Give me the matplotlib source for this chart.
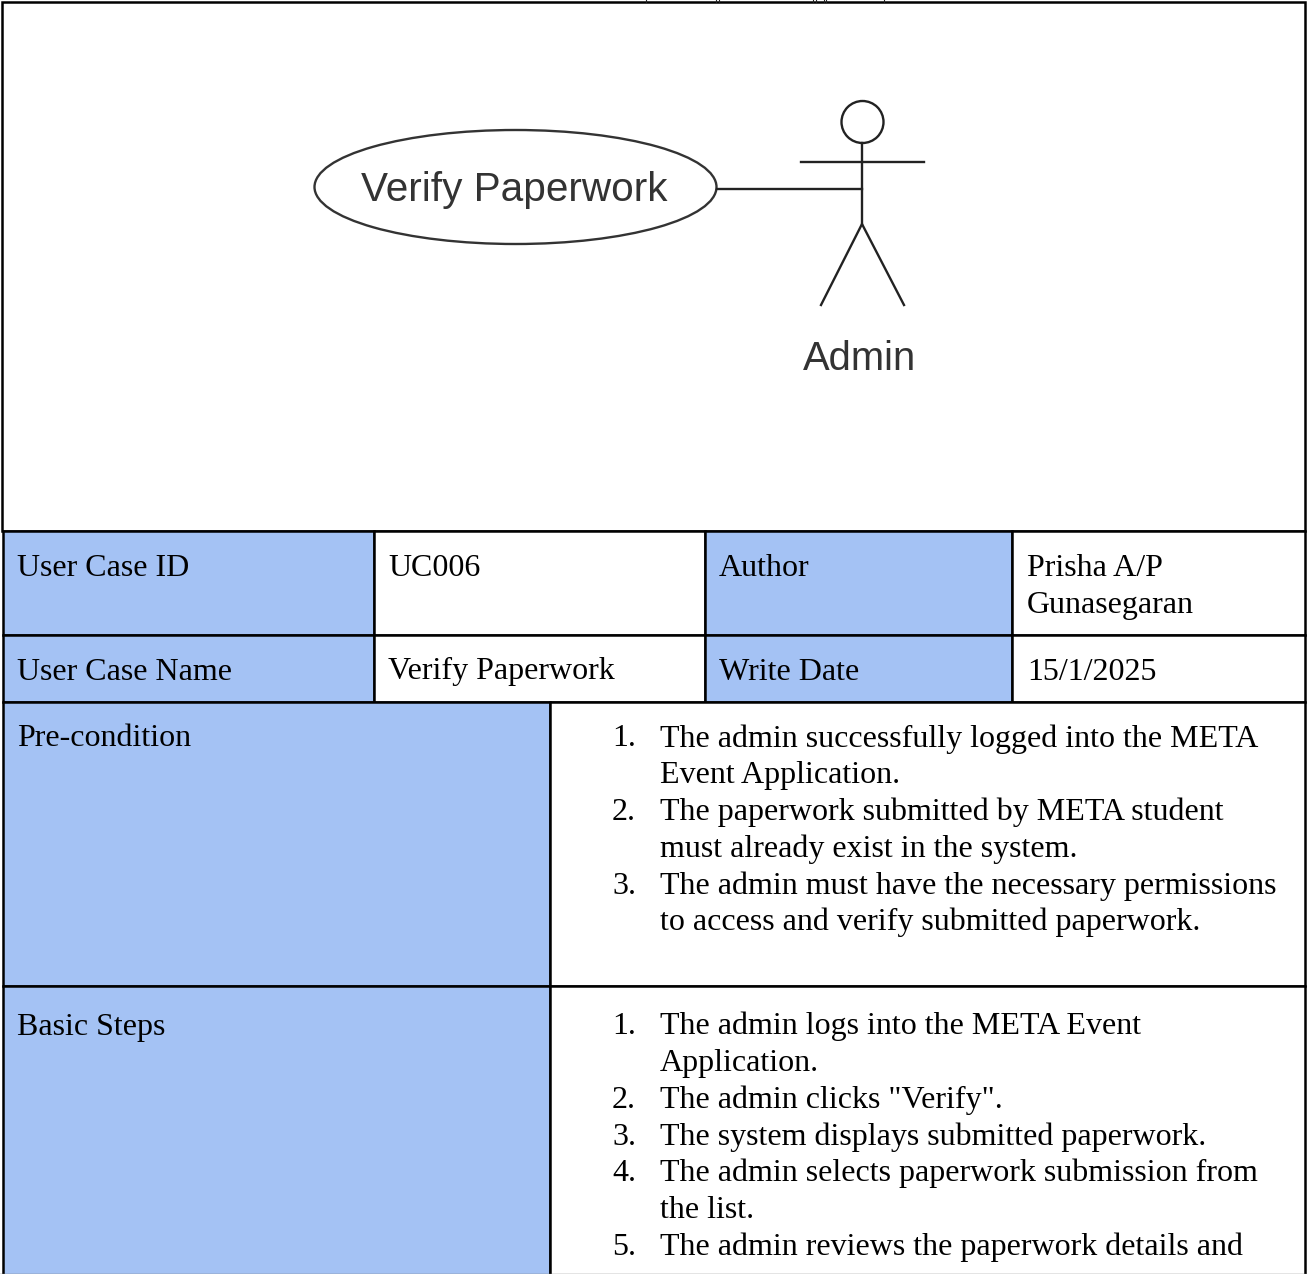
import matplotlib
matplotlib.use('Agg')
import matplotlib.pyplot as plt
from matplotlib.patches import Ellipse, Circle, Rectangle

plt.rcParams['font.family'] = ['Liberation Serif', 'DejaVu Sans']

header_labels = ['User Case ID', 'User Case Name']
header_values = ['UC006', 'Verify Paperwork']
side_labels = ['Author', 'Write Date']
side_values = ['Prisha A/P\nGunasegaran', '15/1/2025']

precondition = [
    ('1.', ['The admin successfully logged into the META', 'Event Application.']),
    ('2.', ['The paperwork submitted by META student', 'must already exist in the system.']),
    ('3.', ['The admin must have the necessary permissions', 'to access and verify submitted paperwork.']),
]
basic_steps = [
    ('1.', ['The admin logs into the META Event', 'Application.']),
    ('2.', ['The admin clicks "Verify".']),
    ('3.', ['The system displays submitted paperwork.']),
    ('4.', ['The admin selects paperwork submission from', 'the list.']),
    ('5.', ['The admin reviews the paperwork details and']),
]
# bits of the line of text cut off above the frame
clipped_marks = [646, 716, 719, 813, 816, 824, 826, 884]

BLUE = '#a4c2f4'
FS = 23.0
LINE = 36.8

fig = plt.figure(figsize=(13.07, 12.74), dpi=100)
ax = fig.add_axes([0, 0, 1, 1])
ax.set_xlim(0, 1307)
ax.set_ylim(1274, 0)
ax.axis('off')


def cell(x0, y0, x1, y1, color='white'):
    ax.add_patch(Rectangle((x0, y0), x1 - x0, y1 - y0, fc=color, ec='black', lw=1.8, zorder=1))


def put(x, y, s):
    ax.text(x, y, s, fontsize=FS, va='baseline', ha='left', color='black', zorder=3)


def numbered(items, y):
    for num, lines in items:
        put(612, y, num)
        for line in lines:
            put(660, y, line)
            y += LINE


# outer frame and diagram cell
cell(2, 2, 1305, 531)
for x in clipped_marks:
    ax.plot([x, x], [0, 2], color='#222222', lw=0.8, zorder=2)

# table rows
rows = [(531, 635), (635, 702)]
baselines = [576.5, 679.5]
for i, (y0, y1) in enumerate(rows):
    cell(3, y0, 374, y1, BLUE)
    cell(374, y0, 705, y1)
    cell(705, y0, 1012, y1, BLUE)
    cell(1012, y0, 1305, y1)
    put(17, baselines[i], header_labels[i])
    put(388, baselines[i], header_values[i])
    put(719, baselines[i], side_labels[i])
    put(1027, baselines[i], side_values[i].split('\n')[0])
    if '\n' in side_values[i]:
        put(1027, baselines[i] + LINE, side_values[i].split('\n')[1])

cell(3, 702, 550, 986, BLUE)
cell(550, 702, 1305, 986)
cell(3, 986, 550, 1290, BLUE)
cell(550, 986, 1305, 1290)
ax.plot([0, 1307], [1273.5, 1273.5], color='#777777', lw=1, zorder=2)
put(17, 746.5, 'Pre-condition')
put(17, 1035, 'Basic Steps')
numbered(precondition, 746.5)
numbered(basic_steps, 1034.3)

# use case diagram
GREY = '#333333'
ax.add_patch(Ellipse((515.5, 187), 402, 114, fc='white', ec=GREY, lw=1.7, zorder=2))
ax.text(514, 190, 'Verify Paperwork', fontsize=29.2, family='Liberation Sans', color='#333333',
        ha='center', va='center', zorder=3)
ax.plot([717, 862], [188.5, 188.5], color='#222222', lw=1.7, zorder=2)
ax.add_patch(Circle((862.5, 122), 21, fc='white', ec='#222222', lw=1.7, zorder=2))
ax.plot([862, 862], [143, 224], color='#222222', lw=1.7, zorder=2)
ax.plot([801, 924], [162, 162], color='#222222', lw=1.7, zorder=2)
ax.plot([821, 862, 904], [305, 224, 305], color='#222222', lw=1.7, zorder=2)
ax.text(860, 359, 'Admin', fontsize=28.8, family='Liberation Sans', color='#333333',
        ha='center', va='center', zorder=3)

fig.savefig('out.png', dpi=100)
